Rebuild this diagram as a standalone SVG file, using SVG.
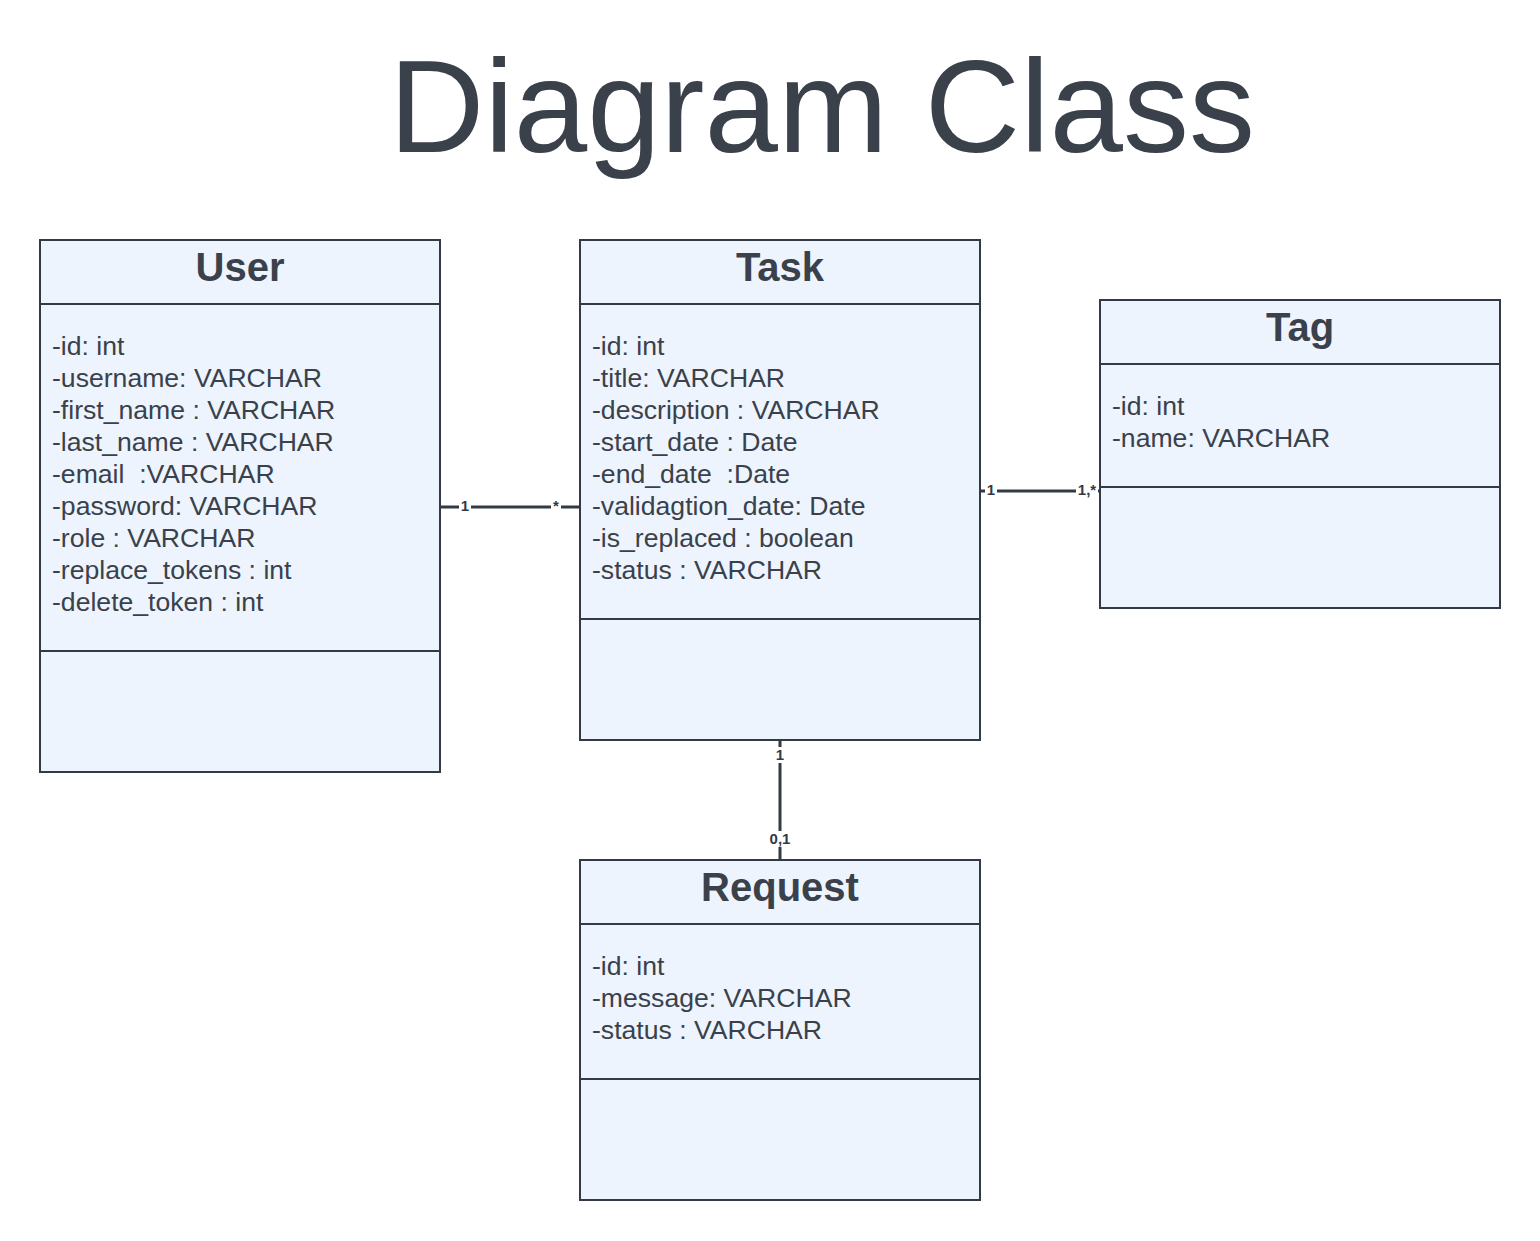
<svg xmlns="http://www.w3.org/2000/svg" width="1540" height="1241" viewBox="0 0 1540 1241">
<style>
.box{fill:#edf4fe;stroke:#333a44;stroke-width:2}
.div{stroke:#333a44;stroke-width:2}
.hd{font-family:"Liberation Sans",Arial,sans-serif;font-weight:bold;font-size:40px;fill:#3a414a;text-anchor:middle}
.at{font-family:"Liberation Sans",Arial,sans-serif;font-size:26.6px;fill:#3a414a}
.ln{stroke:#333a44;stroke-width:3;fill:none}
.lb{font-family:"Liberation Sans",Arial,sans-serif;font-weight:bold;font-size:15px;fill:#333a44;text-anchor:middle}
.bg{fill:#ffffff}
</style>
<rect width="1540" height="1241" fill="#ffffff"/>
<text x="822" y="152" font-family="'Liberation Sans',Arial,sans-serif" font-size="131" fill="#3a414a" text-anchor="middle" textLength="866" lengthAdjust="spacingAndGlyphs">Diagram Class</text>
<g id="connectors">
<line class="ln" x1="441" y1="507" x2="579" y2="507"/>
<rect class="bg" x="459" y="497" width="12" height="16"/>
<text class="lb" x="465" y="511">1</text>
<rect class="bg" x="551" y="497" width="10" height="16"/>
<text class="lb" x="556" y="511">*</text>
<line class="ln" x1="981" y1="491" x2="1099" y2="491"/>
<rect class="bg" x="985" y="481" width="12" height="16"/>
<text class="lb" x="991" y="495">1</text>
<rect class="bg" x="1076" y="481" width="22" height="16"/>
<text class="lb" x="1087" y="495">1,*</text>
<line class="ln" x1="780" y1="741" x2="780" y2="859"/>
<rect class="bg" x="772" y="747" width="16" height="16"/>
<text class="lb" x="780" y="760">1</text>
<rect class="bg" x="766" y="831" width="28" height="16"/>
<text class="lb" x="780" y="844">0,1</text>
</g>
<g id="user">
<rect class="box" x="40" y="240" width="400" height="532"/>
<line class="div" x1="40" y1="304" x2="440" y2="304"/>
<line class="div" x1="40" y1="651" x2="440" y2="651"/>
<text class="hd" x="240" y="281">User</text>
<text class="at" x="52" y="355">-id: int</text>
<text class="at" x="52" y="387">-username: VARCHAR</text>
<text class="at" x="52" y="419">-first_name : VARCHAR</text>
<text class="at" x="52" y="451">-last_name : VARCHAR</text>
<text class="at" x="52" y="483" xml:space="preserve">-email  :VARCHAR</text>
<text class="at" x="52" y="515">-password: VARCHAR</text>
<text class="at" x="52" y="547">-role : VARCHAR</text>
<text class="at" x="52" y="579">-replace_tokens : int</text>
<text class="at" x="52" y="611">-delete_token : int</text>
</g>
<g id="task">
<rect class="box" x="580" y="240" width="400" height="500"/>
<line class="div" x1="580" y1="304" x2="980" y2="304"/>
<line class="div" x1="580" y1="619" x2="980" y2="619"/>
<text class="hd" x="780" y="281">Task</text>
<text class="at" x="592" y="355">-id: int</text>
<text class="at" x="592" y="387">-title: VARCHAR</text>
<text class="at" x="592" y="419">-description : VARCHAR</text>
<text class="at" x="592" y="451">-start_date : Date</text>
<text class="at" x="592" y="483" xml:space="preserve">-end_date  :Date</text>
<text class="at" x="592" y="515">-validagtion_date: Date</text>
<text class="at" x="592" y="547">-is_replaced : boolean</text>
<text class="at" x="592" y="579">-status : VARCHAR</text>
</g>
<g id="tag">
<rect class="box" x="1100" y="300" width="400" height="308"/>
<line class="div" x1="1100" y1="364" x2="1500" y2="364"/>
<line class="div" x1="1100" y1="487" x2="1500" y2="487"/>
<text class="hd" x="1300" y="341">Tag</text>
<text class="at" x="1112" y="415">-id: int</text>
<text class="at" x="1112" y="447">-name: VARCHAR</text>
</g>
<g id="request">
<rect class="box" x="580" y="860" width="400" height="340"/>
<line class="div" x1="580" y1="924" x2="980" y2="924"/>
<line class="div" x1="580" y1="1079" x2="980" y2="1079"/>
<text class="hd" x="780" y="901">Request</text>
<text class="at" x="592" y="975">-id: int</text>
<text class="at" x="592" y="1007">-message: VARCHAR</text>
<text class="at" x="592" y="1039">-status : VARCHAR</text>
</g>
</svg>
